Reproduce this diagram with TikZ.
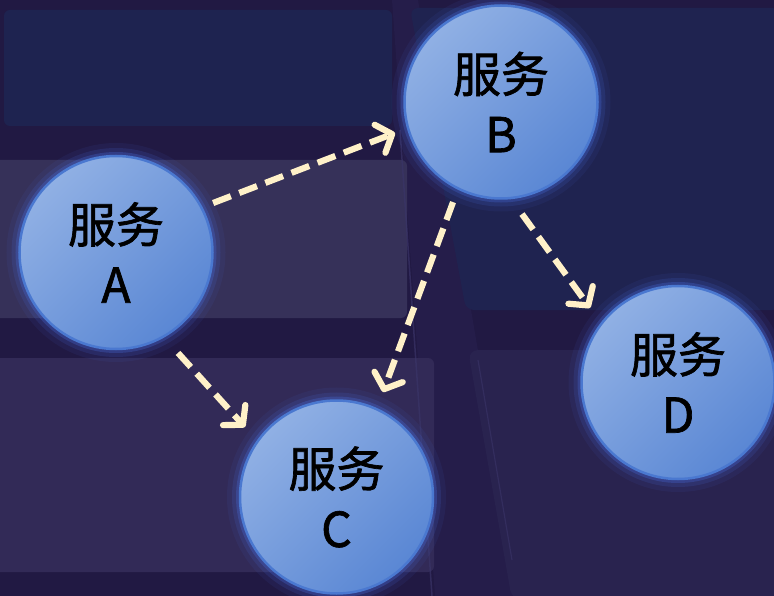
\documentclass[tikz,border=0pt]{standalone}
\usepackage{fontspec}
\setmainfont{Noto Sans CJK SC}
\newfontfamily\svcfont[FakeBold=1.4]{Noto Sans CJK SC}
\usetikzlibrary{arrows.meta}
\definecolor{bgbase}{HTML}{211943}
\definecolor{keynavy}{HTML}{1E2350}
\definecolor{keymid}{HTML}{363159}
\definecolor{keybot}{HTML}{322A57}
\definecolor{keyR}{HTML}{1F2350}
\definecolor{keyRB}{HTML}{29234F}
\definecolor{gapc}{HTML}{251D4A}
\definecolor{edgec}{HTML}{3A3468}
\definecolor{nodetop}{HTML}{90B0E4}
\definecolor{nodebot}{HTML}{5A87D4}
\definecolor{nodeedge}{HTML}{4A78D0}
\definecolor{glowc}{HTML}{4A6FE0}
\definecolor{flowc}{HTML}{FFF1C9}
\tikzset{
  svc/.style={circle, minimum size=193pt, inner sep=0pt, draw=nodeedge, line width=2.5pt,
    top color=nodetop, bottom color=nodebot, shading angle=45,
    preaction={draw=glowc, line width=26pt, opacity=0.08},
    preaction={draw=glowc, line width=16pt, opacity=0.15},
    preaction={draw=glowc, line width=8pt, opacity=0.28},
    align=center, font=\svcfont\fontsize{48}{60}\selectfont, text=black},
  flow/.style={draw=flowc, line width=6.2pt, dash pattern=on 19pt off 9pt,
    -{Straight Barb[length=13pt,width=30pt,line cap=round,line join=round]}}
}
\begin{document}
\begin{tikzpicture}[x=1pt,y=-1pt]
\useasboundingbox (0,0) rectangle (774,596);
% background keyboard
\fill[bgbase] (0,0) rectangle (774,596);
\fill[gapc] (392,0) -- (418,0) -- (520,596) -- (435,596) -- cycle;
\fill[keynavy, rounded corners=6] (4,10) rectangle (392,126);
\fill[keymid, rounded corners=6] (-6,160) rectangle (407,318);
\fill[keybot, rounded corners=6] (-6,358) rectangle (434,572);
\fill[keyR, rounded corners=8] (410,8) -- (780,8) -- (780,310) -- (466,310) -- cycle;
\fill[keyRB, rounded corners=10] (468,350) -- (780,350) -- (780,600) -- (512,600) -- cycle;
\draw[edgec, line width=1.5pt, opacity=0.7] (400,130) -- (432,596);
\draw[edgec, line width=1.2pt, opacity=0.6] (478,360) -- (512,560);
% nodes
\node[svc] (A) at (116,252.5) {服务\\A};
\node[svc] (B) at (501,102) {服务\\B};
\node[svc] (C) at (336.5,497) {服务\\C};
\node[svc] (D) at (678,382.5) {服务\\D};
% connectors
\draw[flow] ([shift={(-27:109)}]A.center) -- ([shift={(163.7:110.4)}]B.center);
\draw[flow] ([shift={(58.3:118)}]A.center) -- ([shift={(217.4:115.2)}]C.center);
\draw[flow] ([shift={(115.6:111)}]B.center) -- ([shift={(-66.1:114.8)}]C.center);
\draw[flow] ([shift={(79.4:114)}]B.center) -- ([shift={(220.3:115.3)}]D.center);
\end{tikzpicture}
\end{document}
